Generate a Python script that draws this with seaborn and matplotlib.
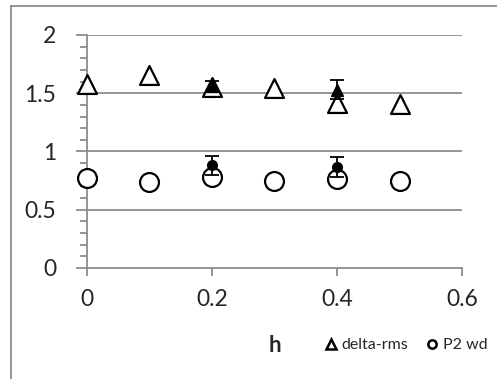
import matplotlib
matplotlib.use("Agg")
import matplotlib.pyplot as plt
import seaborn as sns
import pandas as pd
from matplotlib.ticker import MultipleLocator
from matplotlib.lines import Line2D

sns.set_theme(style="white")
plt.rcParams['font.family'] = ['Lato', 'DejaVu Sans']

# data
h = [0.0, 0.1, 0.2, 0.3, 0.4, 0.5]
delta_rms = [1.58, 1.66, 1.55, 1.545, 1.415, 1.41]
p2_wd = [0.77, 0.74, 0.785, 0.745, 0.76, 0.75]
h_exp = [0.2, 0.4]
delta_exp = [1.56, 1.53]
delta_err = [0.045, 0.08]
p2_exp = [0.88, 0.865]
p2_err = [0.085, 0.085]

df = pd.DataFrame({"h": h, "delta-rms": delta_rms, "P2 wd": p2_wd})

fig = plt.figure(figsize=(4.97, 3.79), dpi=100)
ax = fig.add_axes([0.175, 0.2929, 0.7546, 0.6148])

grey = "#8c8c8c"
for yv in [0.5, 1.0, 1.5, 2.0]:
    ax.axhline(yv, color=grey, lw=1.3, zorder=0)

sns.scatterplot(data=df, x="h", y="delta-rms", ax=ax, marker="^", s=185,
                facecolor="white", edgecolor="black", linewidth=1.6, zorder=3, clip_on=False)
sns.scatterplot(data=df, x="h", y="P2 wd", ax=ax, marker="o", s=185,
                facecolor="white", edgecolor="black", linewidth=1.6, zorder=3, clip_on=False)

ax.errorbar(h_exp, delta_exp, yerr=delta_err, fmt="^", color="black", ms=8,
            capsize=5, capthick=1.3, elinewidth=1.3, zorder=4)
ax.errorbar(h_exp, p2_exp, yerr=p2_err, fmt="o", color="black", ms=7,
            capsize=5, capthick=1.3, elinewidth=1.3, zorder=4)

ax.set_xlim(0, 0.6)
ax.set_ylim(0, 2)
ax.set_xticks([0, 0.2, 0.4, 0.6])
ax.set_xticklabels(["0", "0.2", "0.4", "0.6"])
ax.set_yticks([0, 0.5, 1, 1.5, 2])
ax.set_yticklabels(["0", "0.5", "1", "1.5", "2"])
ax.yaxis.set_minor_locator(MultipleLocator(0.1))
ax.tick_params(axis="both", which="major", labelsize=16.5, color=grey, width=1.3, length=6,
               direction="out", bottom=True, left=True)
ax.tick_params(axis="y", which="major", pad=14, length=8)
ax.tick_params(axis="x", which="major", pad=9)
ax.tick_params(axis="y", which="minor", color=grey, width=1.3, length=5, direction="out", left=True)
ax.set_xlabel("")
ax.set_ylabel("")

for s in ["top", "right"]:
    ax.spines[s].set_visible(False)
for s in ["left", "bottom"]:
    ax.spines[s].set_color(grey)
    ax.spines[s].set_linewidth(1.3)

fig.text(275 / 497, 1 - 345 / 379, "h", fontsize=16, fontweight="bold", ha="center", va="center")

handles = [
    Line2D([], [], marker="^", ls="none", mfc="white", mec="black", mew=1.8, ms=6.5),
    Line2D([], [], marker="o", ls="none", mfc="white", mec="black", mew=1.8, ms=6),
]
fig.legend(handles, ["delta-rms", "P2 wd"], loc="center", bbox_to_anchor=(406 / 497, 1 - 345 / 379),
           ncol=2, frameon=False, fontsize=11.5, handletextpad=0.25, columnspacing=1.1,
           handlelength=0.8, borderpad=0)

# outer chart frame (left and top)
fig.add_artist(Line2D([11 / 497, 11 / 497], [0, 1 - 6 / 379], transform=fig.transFigure, color=grey, lw=1.3))
fig.add_artist(Line2D([11 / 497, 1], [1 - 6 / 379, 1 - 6 / 379], transform=fig.transFigure, color=grey, lw=1.3))

fig.savefig("out.png", dpi=100)
